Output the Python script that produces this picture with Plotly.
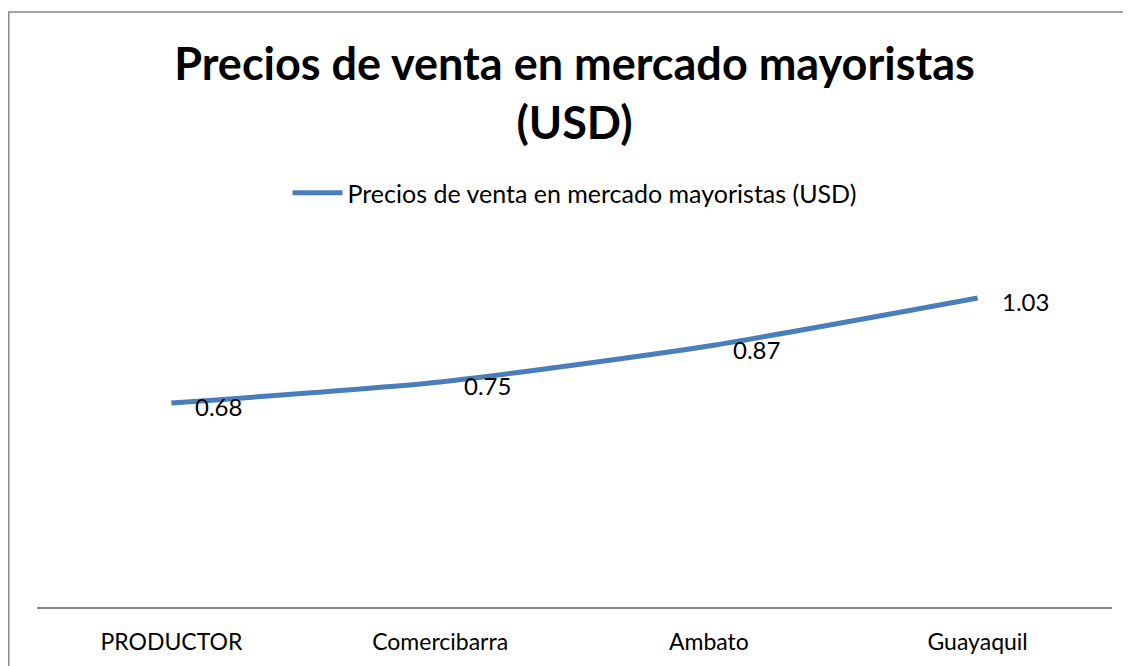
import plotly.graph_objects as go

categories = ["PRODUCTOR", "Comercibarra", "Ambato", "Guayaquil"]
prices = [0.68, 0.75, 0.87, 1.03]
series_name = "Precios de venta en mercado mayoristas (USD)"
title_text = "Precios de venta en mercado mayoristas<br>(USD)"
value_labels = ["0.68", "0.75", "0.87", "1.03"]

FONT = "Lato"
LINE_COLOR = "#4A7EBB"
GRAY = "#868686"

fig = go.Figure()
fig.add_trace(go.Scatter(
    x=categories, y=prices, mode="lines", name=series_name,
    line=dict(color=LINE_COLOR, width=5, shape="spline", smoothing=0.6),
    showlegend=True,
))

for c, v, t in zip(categories, prices, value_labels):
    fig.add_annotation(x=c, y=v, text=t, showarrow=False, xanchor="left",
                       yanchor="middle", xshift=22, yshift=-3,
                       font=dict(family=FONT, size=24, color="#000000"))

# chart-area frame (page body has an 8px margin, so the figure origin is at (8,8))
fig.add_shape(type="rect", xref="paper", yref="paper",
              x0=-0.0263, x1=1.2, y0=-0.4, y1=1.6528,
              line=dict(color=GRAY, width=1.5), fillcolor="rgba(0,0,0,0)", layer="below")

fig.update_layout(
    width=1123, height=658,
    margin=dict(l=29, r=19, t=239, b=59, autoexpand=False),
    paper_bgcolor="white", plot_bgcolor="white",
    title=dict(text="<b>" + title_text + "</b>", x=0.5, xref="paper", xanchor="center",
               y=0.89, yref="container", yanchor="top",
               font=dict(family=FONT, size=45, color="#000000")),
    legend=dict(orientation="h", x=0.5, xanchor="center", y=1.15, yanchor="middle",
                xref="paper", yref="paper",
                font=dict(family=FONT, size=25, color="#000000"),
                itemwidth=50, bgcolor="rgba(0,0,0,0)"),
    xaxis=dict(type="category", showline=True, linecolor=GRAY, linewidth=1.5,
               showgrid=False, zeroline=False, ticks="outside", ticklen=14,
               tickcolor="rgba(0,0,0,0)", automargin=False,
               tickfont=dict(family=FONT, size=23, color="#000000"),
               range=[-0.5, 3.5]),
    yaxis=dict(range=[0, 1.2], showgrid=False, zeroline=False, showline=False,
               showticklabels=False, ticks="", automargin=False),
    showlegend=True,
)

fig.write_html("out.html")
